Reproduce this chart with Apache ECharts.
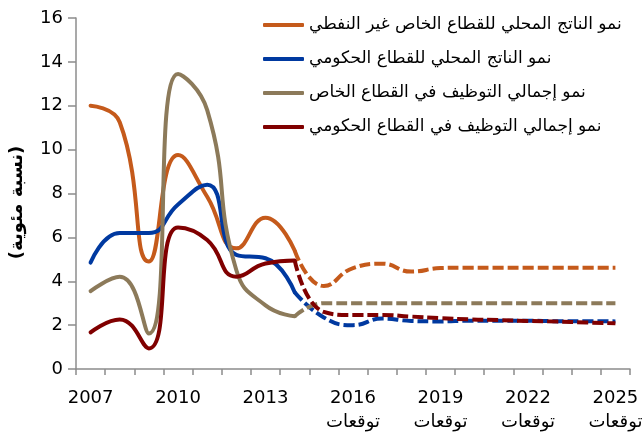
<!DOCTYPE html>
<html>
<head>
<meta charset="utf-8">
<script src="https://cdn.jsdelivr.net/npm/echarts@6/dist/echarts.min.js"></script>
<style>
html,body{margin:0;padding:0;background:#fff;}
#chart{width:643px;height:432px;}
</style>
</head>
<body>
<div id="chart"></div>
<script>
var years = ['2007','2008','2009','2010','2011','2012','2013','2014','2015','2016','2017','2018','2019','2020','2021','2022','2023','2024','2025'];
var forecastLabel = 'توقعات';
var forecastStart = 2016;
var seriesNames = [
  'نمو الناتج المحلي للقطاع الخاص غير النفطي',
  'نمو الناتج المحلي للقطاع الحكومي',
  'نمو إجمالي التوظيف في القطاع الخاص',
  'نمو إجمالي التوظيف في القطاع الحكومي'
];
// actual values 2007-2014
var privateGdpActual = [12.0, 11.25, 4.9, 9.75, 7.85, 5.5, 6.9, 5.4];
var govGdpActual     = [4.85, 6.2, 6.2, 7.5, 8.4, 5.2, 5.05, 3.5];
var privateEmpActual = [3.55, 4.2, 1.62, 13.45, 11.8, 4.5, 2.9, 2.4];
var govEmpActual     = [1.67, 2.26, 0.94, 6.45, 5.88, 4.21, 4.81, 4.95];
// projections 2014-2025 (first value repeats 2014)
var privateGdpProj = [5.4, 3.78, 4.6, 4.8, 4.44, 4.6, 4.62, 4.62, 4.62, 4.62, 4.62, 4.62];
var govGdpProj     = [3.5, 2.35, 2.0, 2.3, 2.19, 2.17, 2.2, 2.2, 2.2, 2.18, 2.18, 2.17];
var privateEmpProj = [2.4, 3.0, 3.0, 3.0, 3.0, 3.0, 3.0, 3.0, 3.0, 3.0, 3.0, 3.0];
var govEmpProj     = [4.95, 2.6, 2.46, 2.46, 2.39, 2.32, 2.26, 2.23, 2.19, 2.16, 2.12, 2.08];
var colors = ['#C55A1B', '#0039A0', '#8C7A5A', '#800000'];

var actualSets = [privateGdpActual, govGdpActual, privateEmpActual, govEmpActual];
var projSets = [privateGdpProj, govGdpProj, privateEmpProj, govEmpProj];
var splitIndex = 7; // 2014

function padActual(arr){ var out=[]; for(var i=0;i<years.length;i++){ out.push(i<arr.length?arr[i]:null);} return out; }
function padProj(arr){ var out=[]; for(var i=0;i<years.length;i++){ out.push(i>=splitIndex?arr[i-splitIndex]:null);} return out; }

var series = [];
for (var k=0;k<4;k++){
  series.push({
    name: seriesNames[k], type:'line', smooth:0.5, symbol:'none', connectNulls:false,
    data: padActual(actualSets[k]),
    lineStyle:{color:colors[k], width:4, cap:'round', join:'round'},
    itemStyle:{color:colors[k]}, z: 2+k
  });
}
for (var k=0;k<4;k++){
  series.push({
    name: seriesNames[k] + ' ', type:'line', smooth:0.5, symbol:'none', connectNulls:false,
    data: padProj(projSets[k]),
    lineStyle:{color:colors[k], width:4, type:[11,4], cap:'butt'},
    itemStyle:{color:colors[k]}, z: 2+k
  });
}

var numFont = 'DejaVu Sans, Liberation Sans, sans-serif';
var chart = echarts.init(document.getElementById('chart'), null, {renderer:'canvas'});
chart.setOption({
  animation:false,
  backgroundColor:'#fff',
  textStyle:{fontFamily:numFont},
  grid:{left:76, right:13, top:18, bottom:63, containLabel:false, outerBoundsMode:'none'},
  legend:{
    show:true, orient:'vertical', left:263, top:15, padding:0,
    data: seriesNames.map(function(n){return {name:n, icon:'roundRect'};}),
    itemWidth:41, itemHeight:4, itemGap:14,
    textStyle:{fontSize:17, lineHeight:20, color:'#000', fontFamily:numFont}
  },
  xAxis:{
    type:'category', data:years, boundaryGap:true,
    axisLine:{lineStyle:{color:'#8c8c8c', width:1.5}},
    axisTick:{show:true, interval:0, length:6, lineStyle:{color:'#8c8c8c', width:1.5}},
    axisLabel:{
      interval:2, fontSize:18, color:'#000', margin:17, lineHeight:24, fontFamily:numFont, align:'center',
      formatter:function(v){ return (+v>=forecastStart) ? v + '\n' + forecastLabel : v; }
    }
  },
  yAxis:{
    type:'value', min:0, max:16, interval:2,
    name:'(نسبة مئوية)', nameLocation:'middle', nameGap:50, nameRotate:90,
    nameTextStyle:{fontSize:18, fontWeight:'bold', color:'#000', fontFamily:numFont, padding:[0,0,0,-18]},
    axisLine:{show:true, lineStyle:{color:'#8c8c8c', width:1.5}},
    axisTick:{show:true, length:8, inside:false, lineStyle:{color:'#8c8c8c', width:1.5}},
    splitLine:{show:false},
    axisLabel:{fontSize:18, color:'#000', margin:13, fontFamily:numFont, align:'right'}
  },
  series:series
});
</script>
</body>
</html>
